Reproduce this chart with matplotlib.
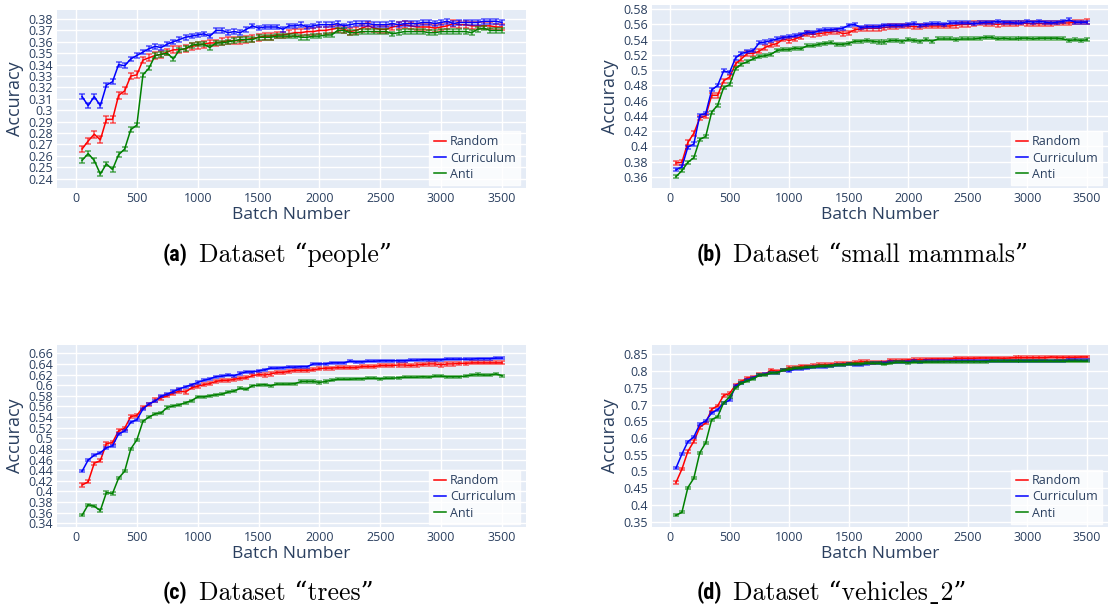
import numpy as np
import matplotlib
matplotlib.use("Agg")
import matplotlib.pyplot as plt

BATCHES = np.arange(50, 3550, 50)

people_random = [0.266, 0.273, 0.279, 0.274, 0.292, 0.292, 0.313, 0.317, 0.330, 0.331,
                 0.344, 0.346, 0.348, 0.349, 0.351, 0.353, 0.353, 0.354, 0.356, 0.357,
                 0.358, 0.359, 0.359, 0.360, 0.361, 0.361, 0.361, 0.362, 0.363, 0.364,
                 0.365, 0.365, 0.366, 0.366, 0.367, 0.368, 0.368, 0.369, 0.369, 0.370,
                 0.370, 0.371, 0.372, 0.371, 0.369, 0.370, 0.372, 0.374, 0.372, 0.371,
                 0.371, 0.373, 0.374, 0.375, 0.374, 0.373, 0.373, 0.373, 0.372, 0.373,
                 0.374, 0.376, 0.375, 0.375, 0.374, 0.374, 0.374, 0.374, 0.373, 0.373]
people_curr = [0.312, 0.304, 0.312, 0.304, 0.322, 0.325, 0.340, 0.339, 0.345, 0.348,
               0.351, 0.354, 0.356, 0.355, 0.358, 0.360, 0.362, 0.364, 0.365, 0.366,
               0.367, 0.365, 0.370, 0.370, 0.368, 0.369, 0.368, 0.371, 0.374, 0.372,
               0.373, 0.373, 0.373, 0.371, 0.374, 0.374, 0.375, 0.373, 0.374, 0.375,
               0.375, 0.375, 0.376, 0.374, 0.375, 0.376, 0.376, 0.376, 0.375, 0.375,
               0.375, 0.376, 0.375, 0.376, 0.376, 0.376, 0.377, 0.377, 0.376, 0.377,
               0.378, 0.376, 0.377, 0.377, 0.377, 0.377, 0.378, 0.378, 0.378, 0.377]
people_anti = [0.256, 0.262, 0.256, 0.244, 0.253, 0.248, 0.261, 0.266, 0.283, 0.287,
               0.331, 0.337, 0.348, 0.349, 0.350, 0.345, 0.353, 0.354, 0.357, 0.358,
               0.358, 0.355, 0.359, 0.359, 0.360, 0.361, 0.362, 0.362, 0.362, 0.364,
               0.364, 0.364, 0.365, 0.365, 0.365, 0.365, 0.364, 0.364, 0.365, 0.365,
               0.366, 0.366, 0.370, 0.370, 0.368, 0.368, 0.369, 0.369, 0.369, 0.369,
               0.369, 0.367, 0.368, 0.369, 0.369, 0.369, 0.369, 0.368, 0.368, 0.369,
               0.369, 0.369, 0.369, 0.369, 0.368, 0.371, 0.372, 0.370, 0.370, 0.370]

mammals_random = [0.378, 0.379, 0.405, 0.417, 0.437, 0.440, 0.467, 0.467, 0.486, 0.491,
                  0.508, 0.515, 0.522, 0.522, 0.525, 0.530, 0.533, 0.535, 0.541, 0.539,
                  0.541, 0.544, 0.548, 0.547, 0.548, 0.549, 0.550, 0.551, 0.548, 0.549,
                  0.553, 0.554, 0.555, 0.555, 0.555, 0.556, 0.557, 0.557, 0.558, 0.558,
                  0.557, 0.557, 0.558, 0.558, 0.558, 0.558, 0.558, 0.559, 0.560, 0.560,
                  0.561, 0.562, 0.561, 0.561, 0.560, 0.561, 0.561, 0.561, 0.562, 0.561,
                  0.561, 0.561, 0.561, 0.561, 0.562, 0.562, 0.562, 0.563, 0.563, 0.564]
mammals_curr = [0.369, 0.373, 0.399, 0.403, 0.441, 0.443, 0.474, 0.480, 0.499, 0.497,
                0.516, 0.522, 0.524, 0.526, 0.536, 0.537, 0.539, 0.541, 0.543, 0.544,
                0.545, 0.547, 0.550, 0.549, 0.552, 0.553, 0.553, 0.554, 0.555, 0.559,
                0.560, 0.556, 0.557, 0.557, 0.557, 0.559, 0.559, 0.559, 0.559, 0.560,
                0.561, 0.559, 0.560, 0.561, 0.561, 0.560, 0.562, 0.562, 0.562, 0.562,
                0.561, 0.562, 0.563, 0.563, 0.564, 0.563, 0.563, 0.562, 0.562, 0.564,
                0.563, 0.564, 0.563, 0.562, 0.563, 0.564, 0.566, 0.563, 0.563, 0.563]
mammals_anti = [0.360, 0.368, 0.379, 0.385, 0.409, 0.413, 0.445, 0.454, 0.477, 0.481,
                0.502, 0.508, 0.511, 0.515, 0.518, 0.519, 0.521, 0.526, 0.527, 0.527,
                0.529, 0.528, 0.532, 0.532, 0.534, 0.535, 0.536, 0.534, 0.534, 0.535,
                0.538, 0.538, 0.539, 0.538, 0.537, 0.537, 0.539, 0.539, 0.538, 0.540,
                0.539, 0.538, 0.540, 0.538, 0.541, 0.541, 0.541, 0.540, 0.541, 0.541,
                0.541, 0.542, 0.543, 0.543, 0.541, 0.542, 0.541, 0.541, 0.542, 0.542,
                0.541, 0.542, 0.542, 0.542, 0.542, 0.541, 0.539, 0.540, 0.539, 0.540]

trees_random = [0.412, 0.418, 0.453, 0.458, 0.490, 0.492, 0.514, 0.519, 0.541, 0.543,
                0.558, 0.563, 0.572, 0.576, 0.580, 0.585, 0.589, 0.587, 0.595, 0.598,
                0.601, 0.603, 0.607, 0.609, 0.609, 0.611, 0.613, 0.614, 0.618, 0.620,
                0.619, 0.621, 0.624, 0.624, 0.626, 0.628, 0.628, 0.628, 0.629, 0.631,
                0.632, 0.632, 0.633, 0.633, 0.633, 0.633, 0.635, 0.635, 0.635, 0.637,
                0.637, 0.637, 0.638, 0.638, 0.637, 0.638, 0.639, 0.640, 0.640, 0.638,
                0.640, 0.640, 0.641, 0.641, 0.642, 0.642, 0.642, 0.642, 0.642, 0.642]
trees_curr = [0.438, 0.459, 0.468, 0.473, 0.482, 0.486, 0.508, 0.514, 0.530, 0.535,
              0.555, 0.565, 0.570, 0.579, 0.583, 0.588, 0.593, 0.597, 0.601, 0.605,
              0.609, 0.612, 0.616, 0.617, 0.619, 0.618, 0.622, 0.625, 0.625, 0.627,
              0.629, 0.632, 0.632, 0.633, 0.634, 0.634, 0.635, 0.635, 0.640, 0.640,
              0.640, 0.642, 0.642, 0.642, 0.645, 0.644, 0.644, 0.645, 0.645, 0.646,
              0.646, 0.646, 0.646, 0.646, 0.647, 0.647, 0.648, 0.648, 0.648, 0.648,
              0.649, 0.649, 0.649, 0.649, 0.649, 0.650, 0.650, 0.650, 0.651, 0.651]
trees_anti = [0.355, 0.375, 0.372, 0.364, 0.398, 0.396, 0.425, 0.438, 0.480, 0.497,
              0.532, 0.540, 0.546, 0.548, 0.558, 0.561, 0.563, 0.567, 0.571, 0.578,
              0.578, 0.580, 0.582, 0.583, 0.587, 0.589, 0.594, 0.592, 0.599, 0.600,
              0.601, 0.599, 0.602, 0.602, 0.602, 0.603, 0.607, 0.607, 0.607, 0.605,
              0.607, 0.609, 0.611, 0.611, 0.611, 0.612, 0.612, 0.613, 0.613, 0.612,
              0.613, 0.613, 0.614, 0.615, 0.615, 0.615, 0.616, 0.615, 0.617, 0.617,
              0.616, 0.616, 0.616, 0.617, 0.619, 0.620, 0.619, 0.619, 0.621, 0.618]

vehicles_random = [0.467, 0.507, 0.560, 0.590, 0.632, 0.645, 0.686, 0.696, 0.727, 0.733,
                   0.758, 0.769, 0.779, 0.782, 0.789, 0.791, 0.803, 0.799, 0.803, 0.810,
                   0.810, 0.815, 0.815, 0.816, 0.819, 0.819, 0.820, 0.822, 0.823, 0.824,
                   0.825, 0.828, 0.828, 0.826, 0.827, 0.827, 0.832, 0.831, 0.832, 0.833,
                   0.834, 0.834, 0.835, 0.836, 0.836, 0.836, 0.836, 0.838, 0.838, 0.838,
                   0.838, 0.839, 0.839, 0.839, 0.839, 0.838, 0.839, 0.840, 0.840, 0.840,
                   0.840, 0.840, 0.840, 0.842, 0.841, 0.841, 0.841, 0.841, 0.842, 0.842]
vehicles_curr = [0.510, 0.552, 0.589, 0.603, 0.641, 0.651, 0.675, 0.685, 0.704, 0.713,
                 0.755, 0.765, 0.773, 0.780, 0.788, 0.790, 0.795, 0.795, 0.803, 0.800,
                 0.806, 0.807, 0.808, 0.811, 0.813, 0.812, 0.815, 0.817, 0.819, 0.820,
                 0.818, 0.818, 0.822, 0.823, 0.823, 0.824, 0.826, 0.826, 0.827, 0.828,
                 0.829, 0.828, 0.829, 0.829, 0.829, 0.829, 0.830, 0.830, 0.830, 0.830,
                 0.830, 0.830, 0.831, 0.831, 0.830, 0.830, 0.831, 0.831, 0.831, 0.831,
                 0.831, 0.831, 0.831, 0.831, 0.831, 0.831, 0.832, 0.832, 0.832, 0.832]
vehicles_anti = [0.369, 0.378, 0.452, 0.480, 0.556, 0.586, 0.655, 0.664, 0.705, 0.723,
                 0.750, 0.763, 0.770, 0.777, 0.787, 0.789, 0.794, 0.795, 0.802, 0.805,
                 0.808, 0.810, 0.811, 0.812, 0.814, 0.815, 0.816, 0.818, 0.819, 0.820,
                 0.822, 0.822, 0.823, 0.823, 0.823, 0.820, 0.823, 0.826, 0.826, 0.825,
                 0.826, 0.826, 0.827, 0.827, 0.827, 0.828, 0.828, 0.828, 0.828, 0.828,
                 0.828, 0.828, 0.828, 0.829, 0.829, 0.829, 0.829, 0.829, 0.829, 0.829,
                 0.829, 0.829, 0.829, 0.829, 0.829, 0.829, 0.829, 0.829, 0.829, 0.829]

SERIES = ["Random", "Curriculum", "Anti"]
COLORS = ["red", "blue", "green"]
# half-width of the error bars, one per series
ERR_PEOPLE = [0.003, 0.002, 0.002]
ERR_MAMMALS = [0.003, 0.002, 0.002]
ERR_TREES = [0.003, 0.002, 0.002]
ERR_VEHICLES = [0.004, 0.003, 0.003]

# the low line in "vehicles_2" is drawn with U+02CD, cmr10 maps "_" to a dot accent
CAPTIONS = [("(a)", "Dataset \u201cpeople\u201d"),
            ("(b)", "Dataset \u201csmall mammals\u201d"),
            ("(c)", "Dataset \u201ctrees\u201d"),
            ("(d)", "Dataset \u201cvehicles\u02cd2\u201d")]

W, H = 1113, 612
BG = "#E5ECF6"
TXT = "#2a3f5f"

panels = [
    # (left, top, right, bottom) px, xlim, ylim, yticks
    ((57, 10, 526, 188), (-156, 3697), (0.2318, 0.3879), np.arange(0.24, 0.385, 0.01),
     [people_random, people_curr, people_anti], ERR_PEOPLE),
    ((652, 5, 1108, 188), (-151, 3676), (0.3452, 0.5856), np.arange(0.36, 0.585, 0.02),
     [mammals_random, mammals_curr, mammals_anti], ERR_MAMMALS),
    ((57, 345, 526, 527), (-156, 3697), (0.333, 0.6756), np.arange(0.34, 0.665, 0.02),
     [trees_random, trees_curr, trees_anti], ERR_TREES),
    ((652, 345, 1108, 527), (-151, 3676), (0.3342, 0.8778), np.arange(0.35, 0.855, 0.05),
     [vehicles_random, vehicles_curr, vehicles_anti], ERR_VEHICLES),
]

fig = plt.figure(figsize=(W / 100, H / 100), dpi=100)
plt.rcParams["font.family"] = ["Open Sans", "DejaVu Sans"]

for (l, t, r, b), xlim, ylim, yticks, data, errs in panels:
    ax = fig.add_axes([l / W, 1 - b / H, (r - l) / W, (b - t) / H])
    ax.set_facecolor(BG)
    for s in ax.spines.values():
        s.set_visible(False)
    ax.grid(True, color="white", linewidth=1)
    ax.set_axisbelow(True)
    for name, col, ys, e in zip(SERIES, COLORS, data, errs):
        ax.errorbar(BATCHES, ys, yerr=e, fmt="none", ecolor=col, alpha=0.55,
                    elinewidth=1.3, capsize=2.2, capthick=1.3)
        ax.plot(BATCHES, ys, color=col, linewidth=1.1, label=name)
    ax.set_xlim(*xlim)
    ax.set_ylim(*ylim)
    ax.set_xticks(np.arange(0, 3501, 500))
    ax.set_yticks(yticks)
    ax.set_yticklabels([f"{v:g}" for v in np.round(yticks, 2)])
    ax.tick_params(length=0, labelsize=9, labelcolor=TXT, pad=3)
    ax.set_xlabel("Batch Number", fontsize=12.5, color=TXT, labelpad=1)
    ax.set_ylabel("Accuracy", fontsize=13, color=TXT, labelpad=3)
    leg = ax.legend(loc="lower right", bbox_to_anchor=(1 - 6 / (r - l), 3 / (b - t)),
                    borderaxespad=0, fontsize=9, frameon=True, fancybox=False,
                    handlelength=1.0, handletextpad=0.3, labelspacing=0.25,
                    borderpad=0.35)
    leg.get_frame().set_facecolor("white")
    leg.get_frame().set_edgecolor("white")
    for txt in leg.get_texts():
        txt.set_color(TXT)

cap_pos = [(163, 255), (697, 255), (163, 593), (697, 593)]
for (x, y), (tag, text) in zip(cap_pos, CAPTIONS):
    fig.text(x / W, 1 - y / H, tag, fontsize=16, fontweight="bold",
             family=["Liberation Sans Narrow", "Roboto Condensed", "DejaVu Sans"],
             va="center", ha="left")
    fig.text((x + 36) / W, 1 - y / H, text, fontsize=18.5,
             family=["cmr10", "DejaVu Serif"], va="center", ha="left")

fig.savefig("out.png", dpi=100)
